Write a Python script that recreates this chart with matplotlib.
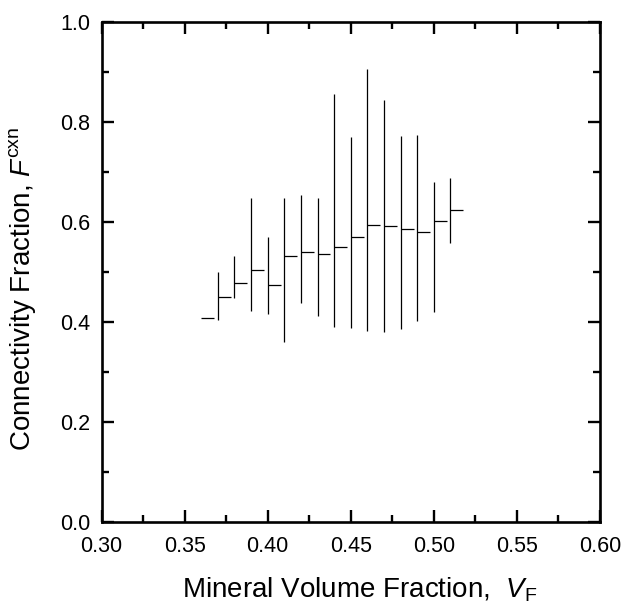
import matplotlib
matplotlib.use('Agg')
import matplotlib.pyplot as plt
import numpy as np
from matplotlib.ticker import MultipleLocator

plt.rcParams.update({
    'font.family': 'Liberation Sans',
    'mathtext.fontset': 'custom',
    'mathtext.rm': 'Liberation Sans',
    'mathtext.it': 'Liberation Sans:italic',
    'font.size': 15.5,
})

# bin position (mineral volume fraction), mean and min/max connectivity fraction
vf = [0.36, 0.37, 0.38, 0.39, 0.40, 0.41, 0.42, 0.43,
      0.44, 0.45, 0.46, 0.47, 0.48, 0.49, 0.50, 0.51]
f_mean = [0.408, 0.450, 0.478, 0.504, 0.474, 0.532, 0.540, 0.536,
          0.550, 0.570, 0.594, 0.592, 0.586, 0.580, 0.602, 0.624]
f_low = [0.408, 0.405, 0.448, 0.422, 0.416, 0.360, 0.438, 0.412,
         0.390, 0.388, 0.382, 0.380, 0.386, 0.402, 0.420, 0.558]
f_high = [0.408, 0.501, 0.533, 0.649, 0.571, 0.649, 0.655, 0.649,
          0.857, 0.771, 0.907, 0.845, 0.773, 0.775, 0.681, 0.689]

bin_w = 0.0078

fig = plt.figure(figsize=(6.23, 6.08), dpi=100)
ax = fig.add_axes([0.163, 0.141, 0.800, 0.822])

x = np.array(vf)
ax.vlines(x, f_low, f_high, color='black', linewidth=0.9)
ax.hlines(f_mean, x, x + bin_w, color='black', linewidth=0.9)

ax.set_xlim(0.30, 0.60)
ax.set_ylim(0.0, 1.0)
ax.xaxis.set_major_locator(MultipleLocator(0.05))
ax.xaxis.set_minor_locator(MultipleLocator(0.025))
ax.yaxis.set_major_locator(MultipleLocator(0.2))
ax.yaxis.set_minor_locator(MultipleLocator(0.1))
ax.xaxis.set_major_formatter(lambda v, p: f'{v:.2f}')
ax.yaxis.set_major_formatter(lambda v, p: f'{v:.1f}')

ax.tick_params(which='both', direction='in', top=True, right=True, width=1.7)
ax.tick_params(which='major', length=8.5)
ax.tick_params(which='minor', length=5)
ax.tick_params(axis='x', which='major', pad=10)
ax.tick_params(axis='y', which='major', pad=8)
for s in ax.spines.values():
    s.set_linewidth(1.9)

ax.set_xlabel(r'Mineral Volume Fraction,  $\mathit{V}_{\mathrm{F}}$', fontsize=20)
ax.set_ylabel(r'Connectivity Fraction, $\mathit{F}^{\mathrm{cxn}}$', fontsize=20)
ax.xaxis.set_label_coords(0.519, -0.107)
ax.yaxis.set_label_coords(-0.127, 0.467)

fig.savefig('out.png', dpi=100)
